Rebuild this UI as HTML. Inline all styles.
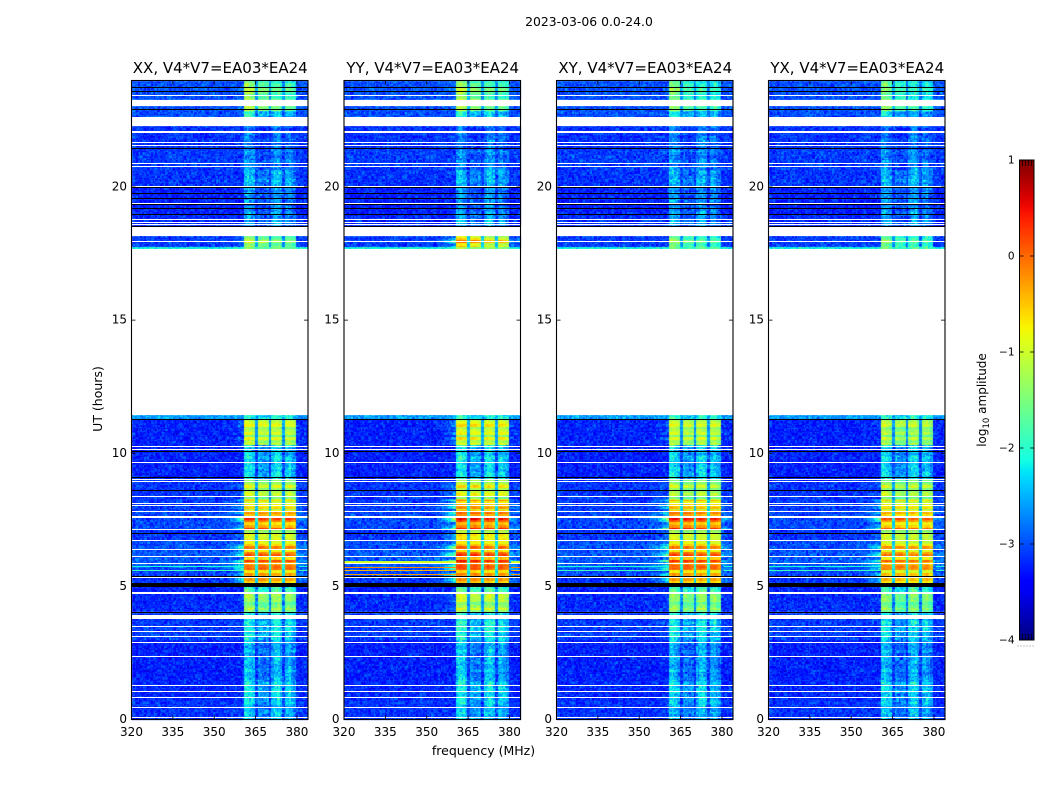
<!DOCTYPE html>
<html lang="en">
<head>
<meta charset="utf-8">
<title>2023-03-06 amplitude waterfall</title>
<style>
html,body{margin:0;padding:0;background:#fff;width:1050px;height:800px;overflow:hidden}
#heatmap-canvas{position:absolute;left:0;top:0}
svg{display:block;position:absolute;left:0;top:0}
text{font-family:"DejaVu Sans","Liberation Sans",sans-serif;fill:#000}
</style>
</head>
<body>
<canvas id="heatmap-canvas" width="1050" height="800"></canvas>
<svg id="figure" xmlns="http://www.w3.org/2000/svg" width="1050" height="800" viewBox="0 0 1050 800">
  <defs>
    <linearGradient id="jet-gradient" x1="0" y1="1" x2="0" y2="0"></linearGradient>
  </defs>
  <text x="589" y="26" font-size="12.4" text-anchor="middle">2023-03-06 0.0-24.0</text>
  <text x="483.5" y="755" font-size="12.5" text-anchor="middle">frequency (MHz)</text>
  <text x="0" y="0" font-size="12.5" text-anchor="middle" transform="translate(102,399) rotate(-90)">UT (hours)</text>
  <text x="0" y="0" font-size="12" text-anchor="middle" transform="translate(986,400) rotate(-90)">log<tspan font-size="8.5" dy="3">10</tspan><tspan dy="-3"> amplitude</tspan></text>
</svg>
<script>
// ---------- chart data ----------
const panelTitles = ["XX, V4*V7=EA03*EA24", "YY, V4*V7=EA03*EA24", "XY, V4*V7=EA03*EA24", "YX, V4*V7=EA03*EA24"];
const xTicks = [320, 335, 350, 365, 380];
const yTicks = [0, 5, 10, 15, 20];
const colorbarTicks = [-4, -3, -2, -1, 0, 1];

// Observing blocks, in UT hours, with estimated log10 amplitudes.
const segmentStart = [23.27,22.85,22.52,21.40,20.64,20.04,19.00,18.54,17.75,17.67,11.32,11.10,10.31,9.07,8.24,7.83,7.12,6.74,6.29,5.70,5.39,5.05,4.79,4.04,3.74,3.00,1.50,0.70,0.00];
const segmentEnd   = [24.00,23.04,22.85,22.29,21.40,20.64,20.04,19.00,18.16,17.75,11.44,11.32,11.10,10.31,9.07,8.24,7.83,7.12,6.74,6.29,5.70,5.39,5.05,4.79,3.99,3.74,3.00,1.50,0.70];
const backgroundLevel = [-3.0,-3.0,-3.0,-3.15,-3.1,-3.15,-3.25,-3.2,-3.1,-2.1,-2.6,-3.25,-3.25,-3.25,-3.15,-3.1,-3.05,-3.15,-3.0,-2.95,-3.05,-3.15,-3.25,-3.2,-3.15,-3.1,-3.25,-3.2,-3.15];
const bandXX = [-1.45,-1.35,-2.15,-2.95,-2.85,-2.6,-2.8,-2.7,-1.3,-1.6,-2.2,-0.9,-1.15,-2.45,-1.2,-0.85,-0.25,-1.1,-0.5,-0.15,-0.3,-0.75,-2.0,-1.45,-2.3,-2.3,-2.65,-2.4,-2.55];
const bandYY = [-1.4,-1.35,-2.15,-2.95,-2.85,-2.6,-2.8,-2.65,-0.5,-1.4,-2.2,-0.8,-1.0,-2.4,-1.0,-0.5,-0.05,-0.9,-0.4,0.05,-0.2,-0.7,-1.9,-1.2,-2.25,-2.25,-2.6,-2.35,-2.5];
const bandXY = [-1.7,-1.55,-2.25,-2.9,-2.85,-2.65,-2.8,-2.7,-1.55,-1.7,-2.2,-1.0,-1.2,-2.45,-1.3,-0.7,-0.1,-1.1,-0.5,-0.05,-0.3,-0.8,-2.0,-1.5,-2.35,-2.35,-2.7,-2.45,-2.6];
const bandYX = [-1.75,-1.6,-2.3,-2.95,-2.85,-2.65,-2.8,-2.75,-1.65,-1.8,-2.2,-1.1,-1.35,-2.5,-1.3,-0.9,-0.4,-1.2,-0.65,-0.3,-0.5,-0.9,-2.1,-1.6,-2.4,-2.4,-2.7,-2.45,-2.6];
const bandLevels = [bandXX, bandYY, bandXY, bandYX];
const subbandTilt = [0.45,0.4,0.3,0,0,0,0,0,0.35,0.1,0,0,0,0,0,0,0,0,0,0,0,0,0,0,0,0,0,0,0];

// Per-MHz channel response (channel i covers 319.7+i to 320.7+i MHz).
const channelWeight = [0,0,0,0,0,0,0,0,0,0,0,0,0,0,0,0,0,0,0,0,0,0,0,0,0,0,0,0,0,0,0,0,0,0,0,0,0,0,0,0,0,
  1,1.03,1,0.98,0.3, 1,1.02,1,0.96,0.3, 0.96,1,0.97,0.93,0.3, 0.98,1,0.97,0.93, 0,0,0,0,0];
const leakWeight = [0,0,0,0,0,0,0,0,0,0,0,0,0,0,0,0,0,0,0,0,0,0,0,0,0,0,0,0,0,0,0,0,0,0,
  0.04,0.06,0.1,0.14,0.2,0.28,0.36, 0,0,0,0,0,0,0,0,0,0,0,0,0,0,0,0,0,0,0, 0.12,0.1,0.08,0.06,0.05];
const leakGain = [0.7, 0.9, 0.8, 0.7];
const faintColumn = [0,0,0,0,0,0,0,0,0,0,0,0,0,0,0,0,0,0,0,0,0,0,0,0,0,0,0,0,0,0,0,0,0,0,0,0,0,0,0,0,0,
  0.2,0.25,0.15,0.05,-0.2, -0.1,-0.2,-0.25,-0.15,-0.3, 0.05,0.2,0.25,0.1,-0.15, 0.05,0.1,-0.05,-0.15, 0,0,0,0,0];

// Fixed, hand-typed texture residuals: integration-to-integration striping and channel noise.
const rowStripe = [0.2,-0.25,0.35,-0.1,-0.3,0.15,0.4,-0.2,0.05,-0.35,0.25,0.1,-0.15,0.3,-0.4,0.2,0,-0.2,0.35,-0.05,-0.3,0.15,0.1];
const noiseA = [0.12,-0.21,0.05,0.27,-0.08,-0.3,0.18,0.02,-0.14,0.24,-0.26,0.09,0.3,-0.03,-0.19,0.15,-0.11,0.22,-0.28,0.07,0.01,-0.17,0.26,-0.05,0.11,-0.24,0.2,-0.09,0.29,-0.13,0.04,-0.27,0.16,0.23,-0.01,-0.2,0.08,-0.29,0.13,0.25,-0.07,-0.16,0.19,-0.23,0.03,0.28,-0.12,0.06,-0.25,0.17,-0.02,0.21,-0.18,0.1,-0.06,0.3,-0.22,0.14,-0.1,-0.28,0.24];
const noiseB = [-0.16,0.09,0.23,-0.27,0.02,0.18,-0.07,-0.22,0.28,0.05,-0.12,0.15,-0.3,0.2,-0.03,0.11,-0.19,0.26,-0.09,0.01,-0.24,0.13,0.29,-0.14,0.07,-0.05,0.21,-0.28,0.17,-0.01,-0.2,0.25,0.04,-0.11,0.3,-0.26,0.1,-0.17,0.19,-0.06,0.14,-0.23,0.27,0.03,-0.13,0.22,-0.08];

// Flagged integrations (UT hours).
const blankStart = [23.04,22.29,18.16,11.44,7.56,4.72,3.76];
const blankEnd   = [23.27,22.52,18.54,17.67,7.66,4.80,3.92];
const whiteLineHours = [23.44,22.64,22.60,22.55,22.10,22.05,21.68,21.58,20.91,20.79,20.05,19.39,18.80,18.70,18.62,17.97,10.28,10.15,9.66,9.04,8.96,8.41,8.12,8.05,7.83,7.14,6.73,6.39,6.15,5.87,5.35,3.52,3.32,3.15,2.91,2.37,1.28,1.07,0.85,0.47,0.08];
const blackLineHours = [23.74,23.62,22.92,21.48,20.00,19.76,19.57,19.35,19.20,18.97,18.54,11.29,10.10,9.10,8.62,7.02,5.39];
const blackBandStart = [4.99,3.99];
const blackBandEnd = [5.12,4.05];

// Strong RFI streaks: across YY, and weaker ones in the other three products.
const streakHours = [5.95,5.90,5.72,5.60,5.45];
const streakLevels = [-1.1,-0.9,-0.15,-0.4,-0.25];
const crossStreakHours = [5.78,5.62];
const crossStreakLevels = [-2.1,-1.9];

// ---------- scales ----------
const svg = document.getElementById('figure');
const NS = 'http://www.w3.org/2000/svg';
const panelLeft = [131.5, 344, 556.5, 768.5];
const panelWidth = 176.5, plotTop = 80.5, plotBottom = 719.5;
const freqMin = 320, freqMax = 384, hourMin = 0, hourMax = 24;
const barLeft = 1019.5, barRight = 1034, barTop = 160, barBottom = 640;
const rowStep = 0.05, channelStep = 0.5, channelStart = 319.7;

function xScale(p, f) { return panelLeft[p] + (f - freqMin) / (freqMax - freqMin) * panelWidth; }
function yScale(h) { return plotBottom - (h - hourMin) / (hourMax - hourMin) * (plotBottom - plotTop); }
function barScale(v) { return barBottom - (v + 4) / 5 * (barBottom - barTop); }

const jetR = [[0,0],[0.35,0],[0.66,1],[0.89,1],[1,0.5]];
const jetG = [[0,0],[0.125,0],[0.375,1],[0.64,1],[0.91,0],[1,0]];
const jetB = [[0,0.5],[0.11,1],[0.34,1],[0.65,0],[1,0]];
function interp(stops, t) {
  for (let i = 1; i < stops.length; i++) {
    if (t <= stops[i][0]) {
      const a = stops[i - 1], b = stops[i];
      return a[1] + (t - a[0]) / (b[0] - a[0]) * (b[1] - a[1]);
    }
  }
  return stops[stops.length - 1][1];
}
function jet(level) {
  const t = Math.max(0, Math.min(1, (level + 4) / 5));
  return 'rgb(' + Math.round(interp(jetR, t) * 255) + ',' + Math.round(interp(jetG, t) * 255) + ',' + Math.round(interp(jetB, t) * 255) + ')';
}
function make(tag, parent, attrs) {
  const el = document.createElementNS(NS, tag);
  for (const k in attrs) el.setAttribute(k, attrs[k]);
  parent.appendChild(el);
  return el;
}
function findSegment(h) {
  for (let s = 0; s < segmentStart.length; s++) {
    if (h >= segmentStart[s] && h < segmentEnd[s]) return s;
  }
  return -1;
}
function cellLevel(p, s, r, c) {
  const ch = Math.floor(c / 2);
  const bg = backgroundLevel[s];
  const band = bandLevels[p][s];
  const n = noiseA[(r * 23 + c * 5 + (r * c) % 17 + p * 17) % noiseA.length] + noiseB[(r * 11 + c * 3 + (r * c) % 13 + p * 5) % noiseB.length];
  const stripeValue = rowStripe[Math.floor(r / 2) % rowStripe.length];
  const w = channelWeight[ch];
  if (w > 0) {
    const bright = Math.max(0, Math.min(1, (band + 2) / 1.2));
    const stripe = stripeValue * (0.3 + bright);
    const tilt = subbandTilt[s] * (ch >= 51 ? 1 : (ch >= 46 ? 0.3 : 0));
    const mottle = faintColumn[ch] * (1 - bright);
    return bg + (band + stripe + mottle - tilt - bg) * w + n * (0.85 - 0.55 * bright);
  }
  const brightLeak = Math.max(0, Math.min(1, (band + 1.6) / 1.2));
  const stripeLeak = Math.max(0, 1 + stripeValue * 2.5);
  return bg + leakWeight[ch] * brightLeak * leakGain[p] * stripeLeak * (band - bg) + n * 0.75;
}

// ---------- heatmap cells ----------
const ctx = document.getElementById('heatmap-canvas').getContext('2d');
panelTitles.forEach(function (title, p) {
  const rowCount = Math.round((hourMax - hourMin) / rowStep);
  const channelCount = channelWeight.length * 2;
  for (let r = 0; r < rowCount; r++) {
    const h = hourMin + r * rowStep;
    const s = findSegment(h + rowStep / 2);
    if (s < 0) continue;
    const y1 = Math.round(yScale(Math.min(h + rowStep, hourMax)));
    const y2 = Math.round(yScale(h));
    if (y2 <= y1) continue;
    for (let c = 0; c < channelCount; c++) {
      const f0 = Math.max(freqMin, channelStart + c * channelStep);
      const f1 = Math.min(freqMax, channelStart + (c + 1) * channelStep);
      if (f1 <= f0) continue;
      const x0 = Math.round(xScale(p, f0));
      const x1 = Math.round(xScale(p, f1));
      if (x1 <= x0) continue;
      ctx.fillStyle = jet(cellLevel(p, s, r, c));
      ctx.fillRect(x0, y1, x1 - x0, y2 - y1);
    }
  }
});

// ---------- overlays and axes ----------
panelTitles.forEach(function (title, p) {
  const panel = make('g', svg, {});
  
  

  const x0 = xScale(p, freqMin), x1 = xScale(p, freqMax);

  const hoursList = p === 1 ? streakHours : crossStreakHours;
  const levelList = p === 1 ? streakLevels : crossStreakLevels;
  hoursList.forEach(function (h, i) {
    const a = make('rect', panel, { x: x0, y: Math.round(yScale(h)), width: xScale(p, 360.7) - x0, height: 1, fill: jet(levelList[i]) });
    
    
    const b = make('rect', panel, { x: xScale(p, 380.6), y: Math.round(yScale(h)), width: x1 - xScale(p, 380.6), height: 1, fill: jet(levelList[i]) });
    
    
  });
  blankStart.forEach(function (h, i) {
    const top = Math.round(yScale(blankEnd[i]));
    const el = make('rect', panel, { x: x0, y: top, width: x1 - x0, height: Math.round(yScale(h)) - top, fill: '#fff' });
    
    
  });
  whiteLineHours.forEach(function (h) {
    const el = make('rect', panel, { x: x0, y: Math.round(yScale(h)), width: x1 - x0, height: 1, fill: '#fff' });
    
    
  });
  blackLineHours.forEach(function (h) {
    const el = make('rect', panel, { x: x0, y: Math.round(yScale(h)), width: x1 - x0, height: 1, fill: '#000' });
    
    
  });
  blackBandStart.forEach(function (h, i) {
    const top = Math.round(yScale(blackBandEnd[i]));
    const el = make('rect', panel, { x: x0, y: top, width: x1 - x0, height: Math.round(yScale(h)) - top, fill: '#000' });
    
    
  });

  const frame = make('rect', panel, { x: x0, y: plotTop, width: x1 - x0, height: plotBottom - plotTop, fill: 'none', stroke: '#000', 'stroke-width': 1.1 });
  
  

  const t = make('text', panel, { x: (x0 + x1) / 2 + 0.5, y: 73, 'font-size': 15, 'text-anchor': 'middle' });
  
  
  t.textContent = title;

  xTicks.forEach(function (f) {
    const x = xScale(p, f);
    const bottomTick = make('line', panel, { x1: x, x2: x, y1: plotBottom, y2: plotBottom - 4, stroke: '#000', 'stroke-width': 0.8 });
    
    
    const topTick = make('line', panel, { x1: x, x2: x, y1: plotTop, y2: plotTop + 4, stroke: '#000', 'stroke-width': 0.8 });
    
    
    const label = make('text', panel, { x: x, y: 736, 'font-size': 12, 'text-anchor': 'middle' });
    
    
    label.textContent = f;
  });
  yTicks.forEach(function (h) {
    const y = yScale(h);
    const leftTick = make('line', panel, { x1: x0, x2: x0 + 4, y1: y, y2: y, stroke: '#000', 'stroke-width': 0.8 });
    
    
    const rightTick = make('line', panel, { x1: x1, x2: x1 - 4, y1: y, y2: y, stroke: '#000', 'stroke-width': 0.8 });
    
    
    const label = make('text', panel, { x: x0 - 4.5, y: y + 3.5, 'font-size': 12, 'text-anchor': 'end' });
    
    
    label.textContent = h;
  });
});

// ---------- colorbar ----------
const gradient = document.getElementById('jet-gradient');
for (let i = 0; i <= 40; i++) {
  make('stop', gradient, { offset: (i / 40 * 100) + '%', 'stop-color': jet(-4 + 5 * i / 40) });
}
const bar = make('g', svg, {});


const barRect = make('rect', bar, { x: barLeft, y: barTop, width: barRight - barLeft, height: barBottom - barTop, fill: 'url(#jet-gradient)', stroke: '#000', 'stroke-width': 1 });


colorbarTicks.forEach(function (v) {
  const y = barScale(v);
  const tickL = make('line', bar, { x1: barLeft, x2: barLeft + 4, y1: y, y2: y, stroke: '#000', 'stroke-width': 0.8 });
  
  
  const tickR = make('line', bar, { x1: barRight, x2: barRight - 4, y1: y, y2: y, stroke: '#000', 'stroke-width': 0.8 });
  
  
  const label = make('text', bar, { x: barLeft - 5, y: y + 3.5, 'font-size': 10.5, 'text-anchor': 'end' });
  
  
  label.textContent = (v < 0 ? '\u2212' + Math.abs(v) : String(v));
});
[1022.5, 1025.5, 1028.5, 1031.5].forEach(function (x) {
  const topMinor = make('line', bar, { x1: x, x2: x, y1: barTop, y2: barTop + 6, stroke: '#000', 'stroke-width': 0.7 });
  
  
  const bottomMinor = make('line', bar, { x1: x, x2: x, y1: barBottom, y2: barBottom - 6, stroke: '#000', 'stroke-width': 0.7 });
  
  
});
const dots = make('line', bar, { x1: 1017.5, x2: 1035, y1: 646, y2: 646, stroke: '#888', 'stroke-width': 1, 'stroke-dasharray': '1 2' });


</script>
</body>
</html>
